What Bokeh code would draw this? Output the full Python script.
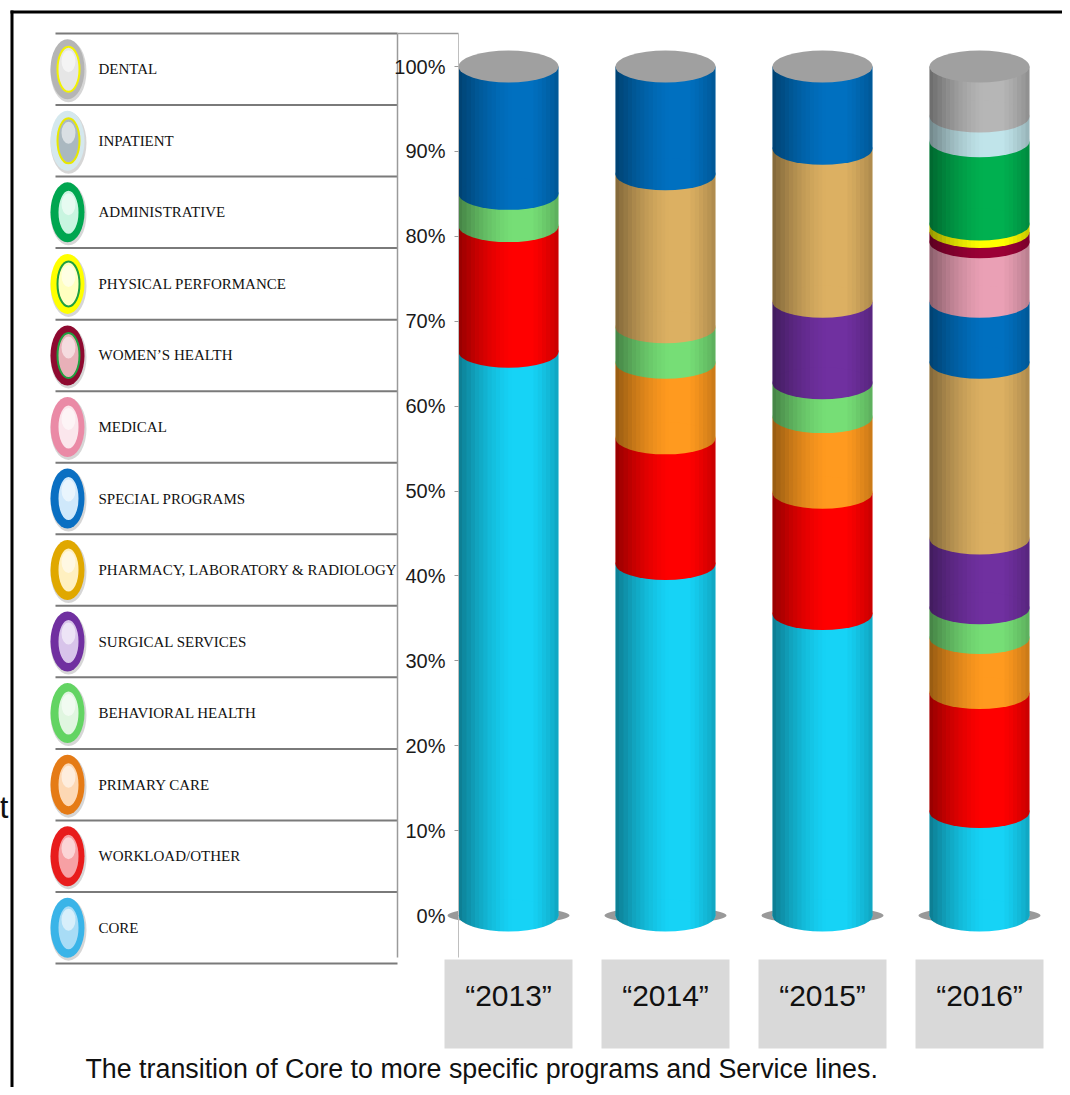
import numpy as np
from bokeh.plotting import figure
from bokeh.models import Range1d, FixedTicker, PrintfTickFormatter, ColumnDataSource, LinearAxis
from bokeh.embed import file_html
from bokeh.resources import INLINE
from bokeh.core.properties import value

# ---------------- data ----------------
years = ["2013", "2014", "2015", "2016"]
year_labels = ["\u201c2013\u201d", "\u201c2014\u201d", "\u201c2015\u201d", "\u201c2016\u201d"]

# stacking order, bottom to top (percent of total)
series_names = ["CORE", "WORKLOAD/OTHER", "PRIMARY CARE", "BEHAVIORAL HEALTH",
                "SURGICAL SERVICES", "PHARMACY, LABORATORY & RADIOLOGY",
                "SPECIAL PROGRAMS", "MEDICAL", "WOMEN\u2019S HEALTH",
                "PHYSICAL PERFORMANCE", "ADMINISTRATIVE", "INPATIENT", "DENTAL"]
core = [66.4, 41.4, 35.5, 12.2]
workload = [14.8, 14.8, 14.3, 14.0]
primary_care = [0.0, 8.9, 8.9, 6.5]
behavioral = [3.8, 4.2, 4.0, 3.5]
surgical = [0.0, 0.0, 9.6, 8.2]
pharmacy = [0.0, 18.0, 18.0, 20.7]
special = [15.0, 12.7, 9.7, 7.2]
medical = [0.0, 0.0, 0.0, 7.0]
womens = [0.0, 0.0, 0.0, 1.2]
physical = [0.0, 0.0, 0.0, 0.9]
administrative = [0.0, 0.0, 0.0, 9.8]
inpatient = [0.0, 0.0, 0.0, 2.9]
dental = [0.0, 0.0, 0.0, 5.9]
series_values = [core, workload, primary_care, behavioral, surgical, pharmacy,
                 special, medical, womens, physical, administrative, inpatient, dental]

y_ticks = [0, 10, 20, 30, 40, 50, 60, 70, 80, 90, 100]
caption = "The transition of Core to more specific programs and Service lines."

# ---------------- styles ----------------
bar_colors = ["#16d3f6", "#ff0000", "#ff9a1f", "#76de76", "#7030a0", "#dcb062",
              "#0070c0", "#eaa0b5", "#9b0036", "#ffff00", "#00b050", "#c0e4ea", "#b6b6b6"]
cap_color = "#a0a0a0"
icon_outer = ["#3ab4e8", "#e81c1c", "#e57b16", "#63d463", "#7030a0", "#e0a800",
              "#0a6fc2", "#ea8aa6", "#8e0a30", "#ffff00", "#00a650", "#d5e8ee", "#b5b5b5"]
icon_ring = ["#3ab4e8", "#e81c1c", "#e57b16", "#63d463", "#7030a0", "#e0a800",
             "#0a6fc2", "#ea8aa6", "#20a040", "#20a040", "#00a650", "#e8e800", "#f2f200"]
icon_fill = ["#a8dcf6", "#f7a0a4", "#fdd8b4", "#e0f6e0", "#d8c4ea", "#fff0c0",
             "#cfe8fb", "#fbe6ec", "#e8b0b8", "#ffffc0", "#c8f5e0", "#aab8c0", "#e6e6e6"]

SANS = "Liberation Sans"
SERIF = "Liberation Serif"

# ---------------- layout constants (canvas pixels) ----------------
CW, CH = 1062, 1087
Y0 = 915.0          # canvas y of 0 %
PX_PCT = 8.49       # pixels per percent
BAR_SP = 157.0      # pixels between bar centres
BAR_PX = 100.0
BAR0 = 508.0        # canvas x of first bar centre
AXIS_PX = 458.0     # canvas x of value axis

W = BAR_PX / BAR_SP
EH = 32.0 / PX_PCT

def vx(px):   # canvas x -> bar index units
    return (px - BAR0) / BAR_SP

def vy(py):   # canvas y -> percent units
    return (Y0 - py) / PX_PCT

p = figure(width=CW, height=CH, output_backend="svg", toolbar_location=None,
           x_range=Range1d(vx(0), vx(CW)), y_range=Range1d(vy(CH), vy(0)),
           x_axis_location=None, y_axis_location=None, min_border=0)
p.min_border_left = p.min_border_right = p.min_border_top = p.min_border_bottom = 0
p.grid.visible = False
p.outline_line_color = None
p.extra_x_ranges = {"px": Range1d(0, CW)}
p.extra_y_ranges = {"py": Range1d(CH, 0)}

# value axis
ax = LinearAxis(fixed_location=vx(AXIS_PX), ticker=FixedTicker(ticks=y_ticks),
                formatter=PrintfTickFormatter(format="%d%%"), bounds=(vy(957), vy(33)))
ax.axis_line_color = "#bfbfbf"
ax.major_tick_line_color = "#9a9a9a"
ax.major_tick_out = 4
ax.major_tick_in = 0
ax.minor_tick_line_color = None
ax.major_label_standoff = 9
ax.major_label_text_font = SANS
ax.major_label_text_font_size = "20px"
ax.major_label_text_color = "#1a1a1a"
p.add_layout(ax, "left")

xs = np.arange(len(years), dtype=float)

# base shadow
p.ellipse(x=xs, y=np.zeros(len(xs)), width=W + 0.14, height=1.9,
          fill_color="#555555", fill_alpha=0.6, line_color=None)

cum = np.zeros(len(years))
for vals, col in zip(series_values, bar_colors):
    v = np.array(vals, dtype=float)
    m = v > 0
    src = ColumnDataSource(dict(x=xs[m], l=xs[m] - W / 2, r=xs[m] + W / 2,
                                b=cum[m], t=(cum + v)[m]))
    p.quad(left="l", right="r", bottom="b", top="t", source=src,
           fill_color=col, line_color=None)
    p.ellipse(x="x", y="b", width=W, height=EH, source=src,
              fill_color=col, line_color=None)
    cum = cum + v

# cylinder side shading (vertical strips following the bottom curve)
N = 24
px_l, py_l, al_l = [], [], []
for xc in xs:
    for j in range(N):
        u0, u1 = j / N, (j + 1) / N
        um = (u0 + u1) / 2
        if um < 0.55:
            a = 0.42 * (1 - um / 0.55) ** 1.5
        elif um > 0.72:
            a = 0.22 * ((um - 0.72) / 0.28) ** 1.3
        else:
            a = 0.0
        if a <= 0.003:
            continue
        xa = xc - W / 2 + u0 * W
        xb = xc - W / 2 + u1 * W
        xxs = np.linspace(xa, xb, 4)
        yb = -EH / 2 * np.sqrt(np.clip(1 - (2 * (xxs - xc) / W) ** 2, 0, 1))
        px_l.append(list(xxs) + [xb, xa])
        py_l.append(list(yb) + [100.0, 100.0])
        al_l.append(a)
p.patches(xs=px_l, ys=py_l, fill_color="black", fill_alpha=al_l, line_color=None)

# top caps
p.ellipse(x=xs, y=np.full(len(xs), 100.0), width=W, height=EH,
          fill_color=cap_color, line_color=None)

# year label boxes
bw = 128.0 / BAR_SP
b_top, b_bot = vy(959), vy(1048)
p.quad(left=xs - bw / 2, right=xs + bw / 2, bottom=np.full(4, b_bot), top=np.full(4, b_top),
       fill_color="#d9d9d9", line_color=None)
p.text(x=xs, y=np.full(4, vy(995)), text=year_labels,
       text_font=value(SANS), text_font_size="30px", text_color="#111111",
       text_align="center", text_baseline="middle")

# ---------------- legend panel (canvas pixel coordinates) ----------------
n = len(series_names)
L_TOP, L_BOT = 33.0, 963.0
rh = (L_BOT - L_TOP) / n
order = list(range(n))[::-1]  # legend lists top series first
line_ys = [L_TOP + rh * k for k in range(n + 1)]
R = dict(x_range_name="px", y_range_name="py")
p.segment(x0=[55] * len(line_ys), x1=[397] * len(line_ys), y0=line_ys, y1=line_ys,
          line_color="#7a7a7a", line_width=2, **R)
p.segment(x0=[397, 397], x1=[397, AXIS_PX], y0=[L_TOP, L_TOP], y1=[957, L_TOP],
          line_color="#9a9a9a", line_width=1.5, **R)

cy = [L_TOP + rh * (k + 0.5) for k in range(n)]
names_l = [series_names[i] for i in order]
p.ellipse(x=[68] * n, y=[c + 2 for c in cy], width=36, height=62,
          fill_color="#8a8a8a", fill_alpha=0.35, line_color=None, **R)
p.ellipse(x=[67] * n, y=cy, width=34, height=60,
          fill_color=[icon_outer[i] for i in order], line_color=None, **R)
p.ellipse(x=[68] * n, y=cy, width=22, height=45,
          fill_color=[icon_fill[i] for i in order],
          line_color=[icon_ring[i] for i in order], line_width=2, **R)
p.ellipse(x=[68] * n, y=[c - 8 for c in cy], width=14, height=22,
          fill_color="white", fill_alpha=0.55, line_color=None, **R)
p.text(x=[98] * n, y=cy, text=names_l, text_font=value(SERIF),
       text_font_size="15px", text_color="#111111", text_baseline="middle",
       text_align="left", **R)

# ---------------- frame and caption ----------------
p.quad(left=[10, 10], right=[CW, 13], top=[10, 10], bottom=[13, CH],
       fill_color="black", line_color=None, **R)
p.text(x=[-1], y=[806], text=["t"], text_font=value(SANS), text_font_size="32px",
       text_color="#111111", text_baseline="middle", text_align="left", **R)
p.text(x=[85], y=[1068], text=[caption], text_font=value(SANS), text_font_size="26.8px",
       text_color="#111111", text_baseline="middle", text_align="left", **R)

open("out.html", "w").write(file_html(p, INLINE))
